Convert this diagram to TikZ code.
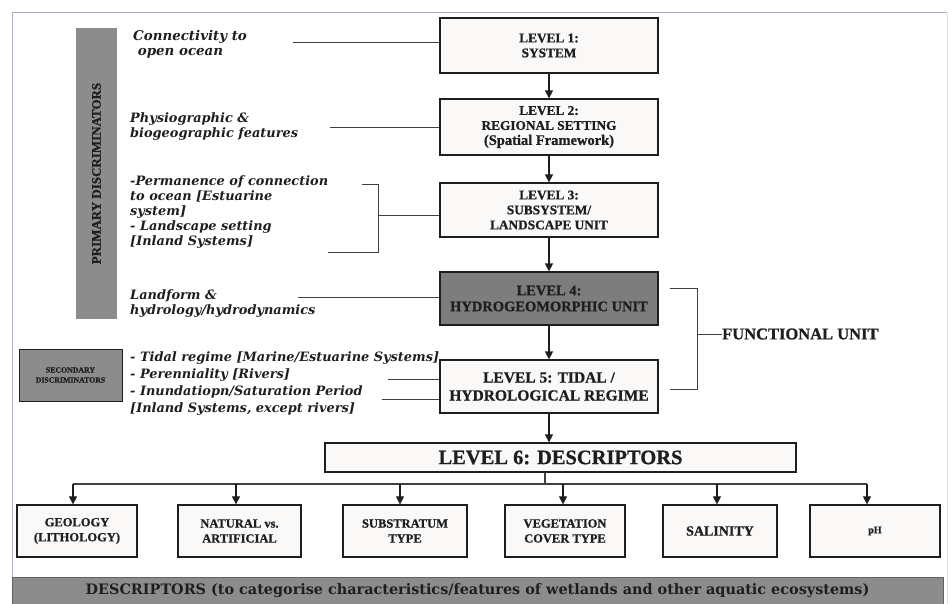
\documentclass[tikz,border=0pt]{standalone}
\usepackage{fontspec}
\setmainfont{Liberation Serif}[BoldFont={Liberation Serif Bold},ItalicFont={Liberation Serif Italic},BoldItalicFont={Liberation Serif Bold Italic}]
\newfontfamily\dv{DejaVu Serif}
\newfontfamily\heavy{Liberation Serif Bold}[FakeBold=0.8]
\usetikzlibrary{arrows.meta}
\definecolor{ink}{HTML}{1E1E1E}
\definecolor{boxfill}{HTML}{FBF8F8}
\definecolor{bargray}{HTML}{8C8C8C}
\definecolor{lvfour}{HTML}{7D7D7D}
\definecolor{framec}{HTML}{A9B3C4}
\begin{document}
\begin{tikzpicture}[x=1pt,y=-1pt,
  lvl/.style={draw=ink, line width=1.3pt, fill=boxfill, align=center, inner sep=0pt, text=ink,
    font=\heavy\fontsize{13.3}{15}\selectfont},
  desc/.style={draw=ink, line width=1.3pt, fill=boxfill, align=center, inner sep=0pt, text=ink,
    minimum height=52pt, font=\heavy\fontsize{12.5}{15}\selectfont},
  lefttxt/.style={anchor=west, align=left, inner sep=0pt, text=ink,
    font=\dv\bfseries\itshape\fontsize{12.9}{15}\selectfont},
  conn/.style={draw=ink!85, line width=0.9pt},
  arr/.style={draw=ink, line width=1.5pt, -{Triangle[width=8pt,length=8pt]}},
  graybar/.style={fill=bargray, inner sep=0pt}
]
\useasboundingbox (0,0) rectangle (951,604);
\fill[white] (0,0) rectangle (951,604);
\draw[framec, line width=1pt] (12,604) -- (12,13) -- (947,13);
\draw[framec!40, line width=0.8pt] (947,13) -- (947,604);

% primary discriminators bar
\node[graybar, minimum width=41pt, minimum height=291pt] (prim) at (96.5,173.5) {};
\node[rotate=90, text=ink, font=\heavy\fontsize{13}{14}\selectfont] (primtxt) at (prim.center) {PRIMARY DISCRIMINATORS};

% secondary discriminators box
\node[graybar, draw=ink, line width=1pt, minimum width=103pt, minimum height=52pt, align=center,
  font=\heavy\fontsize{7.8}{10}\selectfont, text=ink] (sec) at (70.5,375) {SECONDARY\\DISCRIMINATORS};

% level boxes
\node[lvl, minimum width=218pt, minimum height=55pt] (l1) at (549,45.5) {LEVEL 1:\\SYSTEM};
\node[lvl, minimum width=218pt, minimum height=56pt] (l2) at (549,127) {LEVEL 2:\\REGIONAL SETTING\\{\fontsize{14.5}{15}\selectfont (Spatial Framework)}};
\node[lvl, minimum width=218pt, minimum height=54pt] (l3) at (549,210) {LEVEL 3:\\SUBSYSTEM/\\LANDSCAPE UNIT};
\node[lvl, fill=lvfour, minimum width=218pt, minimum height=53pt, font=\heavy\fontsize{14.5}{16}\selectfont] (l4) at (549,298.5) {LEVEL 4:\\HYDROGEOMORPHIC UNIT};
\node[lvl, minimum width=218pt, minimum height=53pt, font=\heavy\fontsize{15.5}{18}\selectfont] (l5) at (549,386.5) {LEVEL 5: TIDAL /\\HYDROLOGICAL REGIME};
\node[lvl, minimum width=471pt, minimum height=29pt, font=\heavy\fontsize{20.5}{22}\selectfont] (l6) at (560.5,457.5) {LEVEL 6: DESCRIPTORS};

\draw[arr] (l1.south) -- (l2.north);
\draw[arr] (l2.south) -- (l3.north);
\draw[arr] (l3.south) -- (l4.north);
\draw[arr] (l4.south) -- (l5.north);
\draw[arr] (l5.south) -- (l5.south |- l6.north);

% left texts
\node[lefttxt, font=\dv\bfseries\itshape\fontsize{13.4}{15}\selectfont] (t1) at (133,44.5) {Connectivity to\\\ open ocean};
\node[lefttxt] (t2) at (130,126.5) {Physiographic \&\\biogeographic features};
\node[lefttxt] (t3) at (130,212) {-Permanence of connection\\to ocean {[}Estuarine\\system{]}\\- Landscape setting\\{[}Inland Systems{]}};
\node[lefttxt] (t4) at (130,303.5) {Landform \&\\hydrology/hydrodynamics};
\node[lefttxt, font=\dv\bfseries\itshape\fontsize{12.9}{17}\selectfont] (t5) at (130,384) {- Tidal regime {[}Marine/Estuarine Systems{]}\\- Perenniality {[}Rivers{]}\\- Inundatiopn/Saturation Period\\{[}Inland Systems, except rivers{]}};

\coordinate (c1) at (293,42);
\coordinate (c2) at (330,127);
\coordinate (c3a) at (362,184);
\coordinate (c3b) at (378,184);
\coordinate (c3c) at (378,252);
\coordinate (c3d) at (328,252);
\coordinate (c3m) at (378,215);
\coordinate (c4) at (298,297);
\coordinate (c5a) at (388,379);
\coordinate (c5b) at (382,399);
\draw[conn] (c1) -- (c1 -| l1.west);
\draw[conn] (c2) -- (c2 -| l2.west);
\draw[conn] (c3a) -- (c3b) -- (c3c) -- (c3d);
\draw[conn] (c3m) -- (c3m -| l3.west);
\draw[conn] (c4) -- (c4 -| l4.west);
\draw[conn] (c5a) -- (c5a -| l5.west);
\draw[conn] (c5b) -- (c5b -| l5.west);

% functional unit bracket
\node[anchor=west, inner sep=0pt, text=ink, font=\heavy\fontsize{16.5}{18}\selectfont] (fu) at (722,334) {FUNCTIONAL UNIT};
\coordinate (fa) at (670,288);
\coordinate (fb) at (697,288);
\coordinate (fc) at (697,389);
\coordinate (fd) at (670,389);
\coordinate (fm) at (697,334);
\draw[conn] (fa) -- (fb) -- (fc) -- (fd);
\draw[conn] (fm) -- (fu.west);

% descriptor boxes
\node[desc, minimum width=120pt] (b1) at (77,531) {GEOLOGY\\(LITHOLOGY)};
\node[desc, minimum width=123pt] (b2) at (239.5,531) {NATURAL vs.\\ARTIFICIAL};
\node[desc, minimum width=124pt] (b3) at (405,531) {SUBSTRATUM\\TYPE};
\node[desc, minimum width=120pt] (b4) at (565,531) {VEGETATION\\COVER TYPE};
\node[desc, minimum width=114pt, font=\heavy\fontsize{14}{16}\selectfont] (b5) at (720,531) {SALINITY};
\node[desc, minimum width=130pt, font=\heavy\fontsize{10}{12}\selectfont] (b6) at (875,531) {pH};

\coordinate (br) at (0,484);
\draw[conn, line width=1.1pt] ([xshift=-15.5pt]l6.south) -- ([xshift=-15.5pt]l6.south |- br);
\draw[conn, line width=1.1pt] ([xshift=-4pt]b1.north |- br) -- ([xshift=-8pt]b6.north |- br);
\draw[arr, line width=1.2pt] ([xshift=-4pt]b1.north |- br) -- ([xshift=-4pt]b1.north);
\draw[arr, line width=1.2pt] ([xshift=-3.5pt]b2.north |- br) -- ([xshift=-3.5pt]b2.north);
\draw[arr, line width=1.2pt] ([xshift=-5pt]b3.north |- br) -- ([xshift=-5pt]b3.north);
\draw[arr, line width=1.2pt] ([xshift=-2pt]b4.north |- br) -- ([xshift=-2pt]b4.north);
\draw[arr, line width=1.2pt] ([xshift=-3pt]b5.north |- br) -- ([xshift=-3pt]b5.north);
\draw[arr, line width=1.2pt] ([xshift=-8pt]b6.north |- br) -- ([xshift=-8pt]b6.north);

% bottom bar
\node[graybar, draw=ink!70, line width=0.8pt, minimum width=931pt, minimum height=27pt, text=ink,
  font=\dv\bfseries\fontsize{14.4}{16}\selectfont] (bot) at (477.5,590.5)
  {DESCRIPTORS (to categorise characteristics/features of wetlands and other aquatic ecosystems)};
\end{tikzpicture}
\end{document}
